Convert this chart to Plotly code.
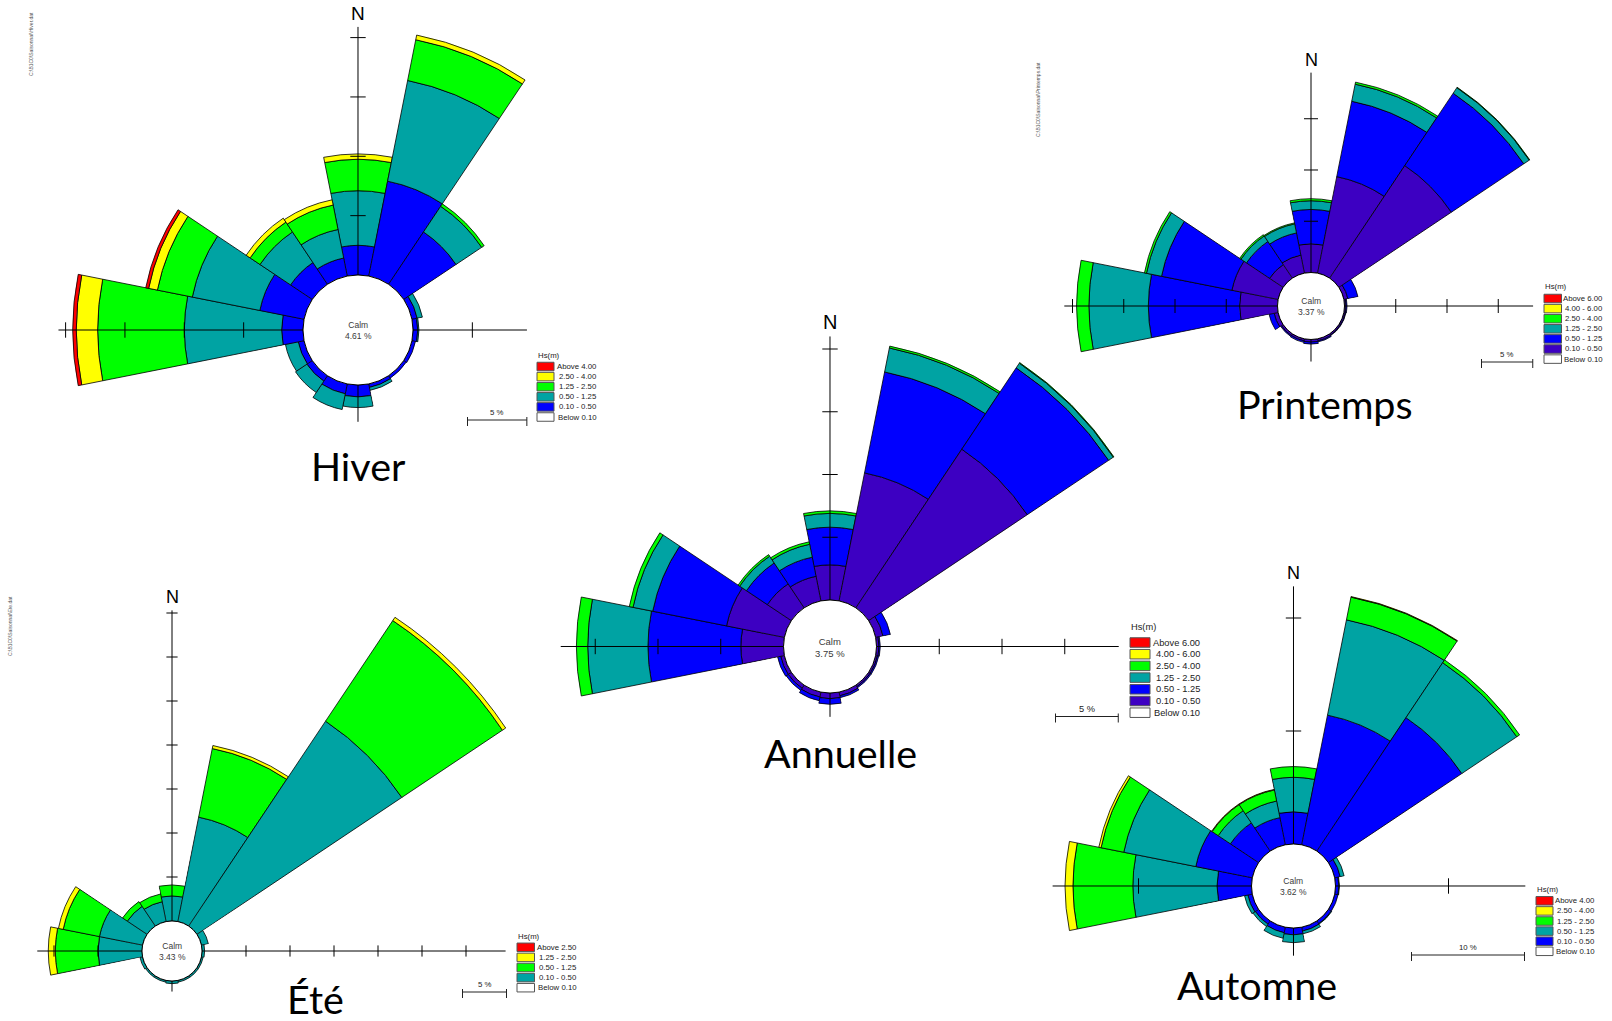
import math
import plotly.graph_objects as go

FIG_W, FIG_H = 1612, 1021

directions = ["N", "NNE", "NE", "ENE", "E", "ESE", "SE", "SSE",
              "S", "SSW", "SW", "WSW", "W", "WNW", "NW", "NNW"]
bearings = [22.5 * i for i in range(16)]

RED, YELLOW, GREEN = "#FF0000", "#FFFF00", "#00FF00"
TEAL, BLUE, INDIGO, WHITE = "#00A3A3", "#0000FF", "#3D00C2", "#FFFFFF"

# ---------------- Hiver : occurrence (%) per Hs class, N -> NNW ----------------
hiver_calm = 4.61
hiver_010_050 = [2.5, 8.15, 5.3, 0.45, 0.4, 0.3, 0.25, 0.3, 1.0, 0.85, 0.55, 0.5, 1.8, 3.8, 2.2, 1.55]
hiver_050_125 = [4.6, 8.65, 2.6, 0.45, 0.1, 0.0, 0.0, 0.25, 0.9, 1.35, 1.15, 1.1, 8.2, 5.8, 3.1, 2.45]
hiver_125_250 = [2.65, 3.5, 0.25, 0, 0, 0, 0, 0, 0, 0, 0, 0, 7.3, 3.0, 1.0, 2.1]
hiver_250_400 = [0.45, 0.4, 0, 0, 0, 0, 0, 0, 0, 0, 0, 0, 1.8, 0.75, 0.4, 0.45]
hiver_above_400 = [0, 0, 0, 0, 0, 0, 0, 0, 0, 0, 0, 0, 0.3, 0.25, 0, 0]

# ---------------- Printemps ----------------
printemps_calm = 3.37
printemps_010_050 = [2.8, 9.6, 13.2, 0.4, 0.15, 0.15, 0.15, 0.2, 0.25, 0.2, 0.2, 0.4, 3.7, 4.6, 1.6, 1.8]
printemps_050_125 = [3.35, 7.5, 8.5, 1.0, 0.1, 0.05, 0.05, 0.1, 0.2, 0.15, 0.1, 0.5, 8.9, 7.0, 2.7, 2.2]
printemps_125_250 = [0.85, 1.7, 0.65, 0, 0, 0, 0, 0, 0, 0, 0, 0, 5.8, 1.5, 0.65, 0.9]
printemps_250_400 = [0.2, 0.2, 0.05, 0, 0, 0, 0, 0, 0, 0, 0, 0, 1.2, 0.2, 0.15, 0.1]
printemps_400_600 = [0] * 16
printemps_above_600 = [0] * 16

# ---------------- Annuelle ----------------
annuelle_calm = 3.75
annuelle_010_050 = [2.8, 10.4, 15.2, 0.6, 0.2, 0.15, 0.15, 0.3, 0.45, 0.4, 0.3, 0.3, 3.4, 4.7, 2.3, 2.0]
annuelle_050_125 = [3.0, 8.2, 7.8, 0.6, 0.1, 0.1, 0.1, 0.15, 0.45, 0.3, 0.2, 0.25, 7.4, 6.0, 2.0, 1.55]
annuelle_125_250 = [1.1, 1.95, 0.45, 0, 0, 0, 0, 0, 0, 0, 0, 0, 4.8, 1.6, 0.65, 1.05]
annuelle_250_400 = [0.2, 0.15, 0.05, 0, 0, 0, 0, 0, 0, 0, 0, 0, 0.9, 0.3, 0.15, 0.2]
annuelle_400_600 = [0] * 16
annuelle_above_600 = [0] * 16

# ---------------- Été ----------------
ete_calm = 3.43
ete_010_050 = [2.85, 12.1, 28.0, 0.8, 0.3, 0.2, 0.2, 0.2, 0.3, 0.2, 0.2, 0.3, 5.0, 5.0, 2.7, 2.3]
ete_050_125 = [1.25, 7.95, 13.75, 0, 0, 0, 0, 0, 0, 0, 0, 0, 4.85, 4.2, 0.65, 0.9]
ete_125_250 = [0, 0.35, 0.45, 0, 0, 0, 0, 0, 0, 0, 0, 0, 0.8, 0.55, 0, 0]
ete_above_250 = [0] * 16

# ---------------- Automne ----------------
automne_calm = 3.62
automne_010_050 = [2.85, 11.7, 14.2, 0.5, 0.3, 0.3, 0.3, 0.35, 0.6, 0.5, 0.35, 0.4, 3.05, 5.1, 3.0, 2.45]
automne_050_125 = [3.05, 8.6, 5.85, 0.35, 0.05, 0, 0.05, 0.25, 0.7, 0.5, 0.25, 0.3, 7.45, 6.5, 1.3, 1.5]
automne_125_250 = [0.95, 2.05, 0.3, 0, 0, 0, 0, 0, 0, 0, 0, 0, 5.3, 2.05, 0.65, 1.0]
automne_250_400 = [0, 0.05, 0, 0, 0, 0, 0, 0, 0, 0, 0, 0, 0.7, 0.2, 0.05, 0.05]
automne_above_400 = [0] * 16

legend_4m = ["Above 4.00", "2.50 - 4.00", "1.25 - 2.50", "0.50 - 1.25", "0.10 - 0.50", "Below 0.10"]
legend_6m = ["Above 6.00", "4.00 - 6.00", "2.50 - 4.00", "1.25 - 2.50", "0.50 - 1.25", "0.10 - 0.50", "Below 0.10"]
legend_25m = ["Above 2.50", "1.25 - 2.50", "0.50 - 1.25", "0.10 - 0.50", "Below 0.10"]

# ---------------- rose layout (pixel geometry) ----------------
roses = [
    dict(title="Hiver", calm=hiver_calm,
         series=[hiver_010_050, hiver_050_125, hiver_125_250, hiver_250_400, hiver_above_400],
         colors=[BLUE, TEAL, GREEN, YELLOW, RED],
         legend=legend_4m, legend_colors=[RED, YELLOW, GREEN, TEAL, BLUE, WHITE],
         center=(358, 330), hole=55, ppp=11.87, step=5, tick_len=11,
         axes={0: 20.9, 90: 9.6, 180: 3.1, 270: 20.6},
         n_font=19, calm_font=8.5,
         leg=dict(x=537, title_y=355, y0=366.5, dy=10.1, bw=17, bh=8.5, right=599, font=7.8),
         bar=dict(x=467.5, y=420, label="5 %", pct=5),
         title_xy=(358, 465), path_xy=(31, 44), path="C:\\B1C0\\Saisonnal\\Hiver.dat"),
    dict(title="Printemps", calm=printemps_calm,
         series=[printemps_010_050, printemps_050_125, printemps_125_250, printemps_250_400,
                 printemps_400_600, printemps_above_600],
         colors=[INDIGO, BLUE, TEAL, GREEN, YELLOW, RED],
         legend=legend_6m, legend_colors=[RED, YELLOW, GREEN, TEAL, BLUE, INDIGO, WHITE],
         center=(1311, 306), hole=33.5, ppp=10.25, step=5, tick_len=10,
         axes={0: 19.5, 90: 18.4, 180: 2.15, 270: 20.8},
         n_font=18, calm_font=8.5,
         leg=dict(x=1544, title_y=287, y0=298.5, dy=10.1, bw=17.5, bh=8.5, right=1605, font=7.8),
         bar=dict(x=1481.5, y=362, label="5 %", pct=5),
         title_xy=(1325, 403), path_xy=(1038, 100), path="C:\\B1C0\\Saisonnal\\Printemps.dat"),
    dict(title="Annuelle", calm=annuelle_calm,
         series=[annuelle_010_050, annuelle_050_125, annuelle_125_250, annuelle_250_400,
                 annuelle_400_600, annuelle_above_600],
         colors=[INDIGO, BLUE, TEAL, GREEN, YELLOW, RED],
         legend=legend_6m, legend_colors=[RED, YELLOW, GREEN, TEAL, BLUE, INDIGO, WHITE],
         center=(830, 646.5), hole=46.5, ppp=12.55, step=5, tick_len=11,
         axes={0: 21.0, 90: 19.3, 180: 1.9, 270: 17.75},
         n_font=20, calm_font=9.5,
         leg=dict(x=1130, title_y=627, y0=642.5, dy=11.7, bw=20, bh=9.5, right=1202, font=9.3),
         bar=dict(x=1055.5, y=716.5, label="5 %", pct=5),
         title_xy=(840, 752), path_xy=None, path=None),
    dict(title="Été", calm=ete_calm,
         series=[ete_010_050, ete_050_125, ete_125_250, ete_above_250],
         colors=[TEAL, GREEN, YELLOW, RED],
         legend=legend_25m, legend_colors=[RED, YELLOW, GREEN, TEAL, WHITE],
         center=(172, 951), hole=30, ppp=8.8, step=5, tick_len=8,
         axes={0: 35.3, 90: 34.5, 180: 1.2, 270: 11.9},
         n_font=18, calm_font=8.5,
         leg=dict(x=517, title_y=936, y0=947.3, dy=10.1, bw=17.5, bh=8.5, right=579, font=7.8),
         bar=dict(x=462.5, y=992, label="5 %", pct=5),
         title_xy=(315, 998), path_xy=(10, 626), path="C:\\B1C0\\Saisonnal\\Ete.dat"),
    dict(title="Automne", calm=automne_calm,
         series=[automne_010_050, automne_050_125, automne_125_250, automne_250_400, automne_above_400],
         colors=[BLUE, TEAL, GREEN, YELLOW, RED],
         legend=legend_4m, legend_colors=[RED, YELLOW, GREEN, TEAL, BLUE, WHITE],
         center=(1293.5, 886), hole=42, ppp=11.3, step=10, tick_len=11,
         axes={0: 22.8, 90: 16.8, 180: 2.45, 270: 17.6},
         n_font=18, calm_font=8.5,
         leg=dict(x=1536, title_y=889, y0=900.8, dy=10.1, bw=17, bh=8.5, right=1597, font=7.8),
         bar=dict(x=1411.5, y=955, label="10 %", pct=10),
         title_xy=(1257, 984), path_xy=None, path=None),
]

SANS = "Liberation Sans, Arial, sans-serif"
TITLE_FONT = "Lato, Open Sans, sans-serif"


def fx(x):
    return x / FIG_W


def fy(y):
    return 1 - y / FIG_H


def sector_bbox(s0, s1):
    """Bounding box of a unit sector (origin included), same rule as plotly's polar."""
    arc = s1 - s0
    a0 = s0 % 360.0
    a1 = a0 + arc
    c0, n0 = math.cos(math.radians(a0)), math.sin(math.radians(a0))
    c1, n1 = math.cos(math.radians(a1)), math.sin(math.radians(a1))
    if (a0 <= 90 and a1 >= 90) or (a0 > 90 and a1 >= 450):
        y1 = 1.0
    elif n0 <= 0 and n1 <= 0:
        y1 = 0.0
    else:
        y1 = max(n0, n1)
    if (a0 <= 180 and a1 >= 180) or (a0 > 180 and a1 >= 540):
        x0 = -1.0
    elif c0 >= 0 and c1 >= 0:
        x0 = 0.0
    else:
        x0 = min(c0, c1)
    if (a0 <= 270 and a1 >= 270) or (a0 > 270 and a1 >= 630):
        y0 = -1.0
    elif n0 >= 0 and n1 >= 0:
        y0 = 0.0
    else:
        y0 = min(n0, n1)
    if a1 >= 360:
        x1 = 1.0
    elif c0 <= 0 and c1 <= 0:
        x1 = 0.0
    else:
        x1 = max(c0, c1)
    return x0, y0, x1, y1


fig = go.Figure()
polar_layouts = {}
shapes = []
annotations = []
polar_index = [0]

HALF = 11.25 + 0.5   # half angular span of a direction sub-plot (deg)

for rose in roses:
    cx, cy = rose["center"]
    hole, ppp = rose["hole"], rose["ppp"]

    for k, brg in enumerate(bearings):
        vals = [s[k] for s in rose["series"]]
        total = sum(vals)
        ext = rose["axes"].get(brg, 0.0)
        rmax = max(total, ext) + 3.0 / ppp
        R = hole + rmax * ppp

        s0, s1 = 90 - brg - HALF, 90 - brg + HALF
        bx0, by0, bx1, by1 = sector_bbox(s0, s1)
        x0p, x1p = cx + R * bx0, cx + R * bx1
        ytop, ybot = cy - R * by1, cy - R * by0

        polar_index[0] += 1
        pid = "polar" if polar_index[0] == 1 else "polar%d" % polar_index[0]
        polar_layouts[pid] = dict(
            domain=dict(x=[max(0, fx(x0p)), min(1, fx(x1p))],
                        y=[max(0, fy(ybot)), min(1, fy(ytop))]),
            sector=[s0, s1],
            hole=hole / R,
            bgcolor="rgba(0,0,0,0)",
            barmode="overlay",
            radialaxis=dict(visible=False, range=[0, rmax]),
            angularaxis=dict(visible=False, rotation=90, direction="clockwise"),
        )

        r_vals, bases, cols = [], [], []
        acc = 0.0
        for v, c in zip(vals, rose["colors"]):
            if v > 0:
                r_vals.append(v)
                bases.append(acc)
                cols.append(c)
                acc += v
        if r_vals:
            fig.add_trace(go.Barpolar(
                r=r_vals, base=bases, theta=[brg] * len(r_vals), width=[22.5] * len(r_vals),
                marker=dict(color=cols, line=dict(color="#000000", width=0.8)),
                subplot=pid, hoverinfo="skip", showlegend=False))

        if ext > 0:
            fig.add_trace(go.Scatterpolar(
                r=[0, ext], theta=[brg, brg], mode="lines",
                line=dict(color="#000000", width=1),
                subplot=pid, hoverinfo="skip", showlegend=False))
            ticks = []
            t = rose["step"]
            while t <= ext + 1e-9:
                ticks.append(t)
                t += rose["step"]
            if ticks:
                sym = "line-ew" if brg in (0, 180) else "line-ns"
                fig.add_trace(go.Scatterpolar(
                    r=ticks, theta=[brg] * len(ticks), mode="markers",
                    marker=dict(symbol=sym, size=rose["tick_len"],
                                line=dict(color="#000000", width=1)),
                    subplot=pid, hoverinfo="skip", showlegend=False))

    # calm circle and its text
    shapes.append(dict(type="circle", xref="paper", yref="paper",
                       x0=fx(cx - hole), x1=fx(cx + hole), y0=fy(cy + hole), y1=fy(cy - hole),
                       line=dict(color="#000000", width=1), fillcolor="rgba(255,255,255,0)",
                       layer="above"))
    annotations.append(dict(x=fx(cx), y=fy(cy + 0.5), xref="paper", yref="paper",
                            text="Calm<br>%.2f %%" % rose["calm"], showarrow=False,
                            xanchor="center", yanchor="middle",
                            font=dict(family=SANS, size=rose["calm_font"], color="#3a3a3a")))

    # north label
    n_top = cy - (hole + rose["axes"][0] * ppp)
    annotations.append(dict(x=fx(cx), y=fy(n_top - 1), xref="paper", yref="paper", text="N",
                            showarrow=False, xanchor="center", yanchor="bottom",
                            font=dict(family=SANS, size=rose["n_font"], color="#000000")))

    # legend
    lg = rose["leg"]
    annotations.append(dict(x=fx(lg["x"] - 1), y=fy(lg["title_y"]), xref="paper", yref="paper",
                            text="Hs(m)", showarrow=False, xanchor="left", yanchor="middle",
                            font=dict(family=SANS, size=lg["font"], color="#222222")))
    for i, (lab, col) in enumerate(zip(rose["legend"], rose["legend_colors"])):
        yc = lg["y0"] + i * lg["dy"]
        shapes.append(dict(type="rect", xref="paper", yref="paper",
                           x0=fx(lg["x"]), x1=fx(lg["x"] + lg["bw"]),
                           y0=fy(yc + lg["bh"] / 2), y1=fy(yc - lg["bh"] / 2),
                           fillcolor=col, line=dict(color="#555555", width=1), layer="above"))
        annotations.append(dict(x=fx(lg["right"]), y=fy(yc), xref="paper", yref="paper",
                                text=lab, showarrow=False, xanchor="right", yanchor="middle",
                                font=dict(family=SANS, size=lg["font"], color="#222222")))

    # scale bar
    sb = rose["bar"]
    x_end = sb["x"] + sb["pct"] * ppp
    shapes.append(dict(type="line", xref="paper", yref="paper",
                       x0=fx(sb["x"]), x1=fx(x_end), y0=fy(sb["y"]), y1=fy(sb["y"]),
                       line=dict(color="#222222", width=1)))
    for xe in (sb["x"], x_end):
        shapes.append(dict(type="line", xref="paper", yref="paper",
                           x0=fx(xe), x1=fx(xe), y0=fy(sb["y"] - 3), y1=fy(sb["y"] + 6),
                           line=dict(color="#222222", width=1)))
    annotations.append(dict(x=fx((sb["x"] + x_end) / 2), y=fy(sb["y"] - 1), xref="paper", yref="paper",
                            text=sb["label"], showarrow=False, xanchor="center", yanchor="bottom",
                            font=dict(family=SANS, size=lg["font"], color="#222222")))

    # season title
    tx, ty = rose["title_xy"]
    annotations.append(dict(x=fx(tx), y=fy(ty), xref="paper", yref="paper", text=rose["title"],
                            showarrow=False, xanchor="center", yanchor="middle",
                            font=dict(family=TITLE_FONT, size=39.5, color="#000000")))

    # source file path, printed vertically
    if rose["path"]:
        px_, py_ = rose["path_xy"]
        annotations.append(dict(x=fx(px_), y=fy(py_), xref="paper", yref="paper", text=rose["path"],
                                showarrow=False, textangle=-90, xanchor="center", yanchor="middle",
                                font=dict(family=SANS, size=5, color="#555555")))

fig.update_layout(
    width=FIG_W, height=FIG_H, autosize=False,
    margin=dict(l=0, r=0, t=0, b=0, pad=0),
    paper_bgcolor="#FFFFFF", plot_bgcolor="#FFFFFF",
    template="none", showlegend=False,
    shapes=shapes, annotations=annotations,
    **polar_layouts,
)

fig.write_html("out.html")
